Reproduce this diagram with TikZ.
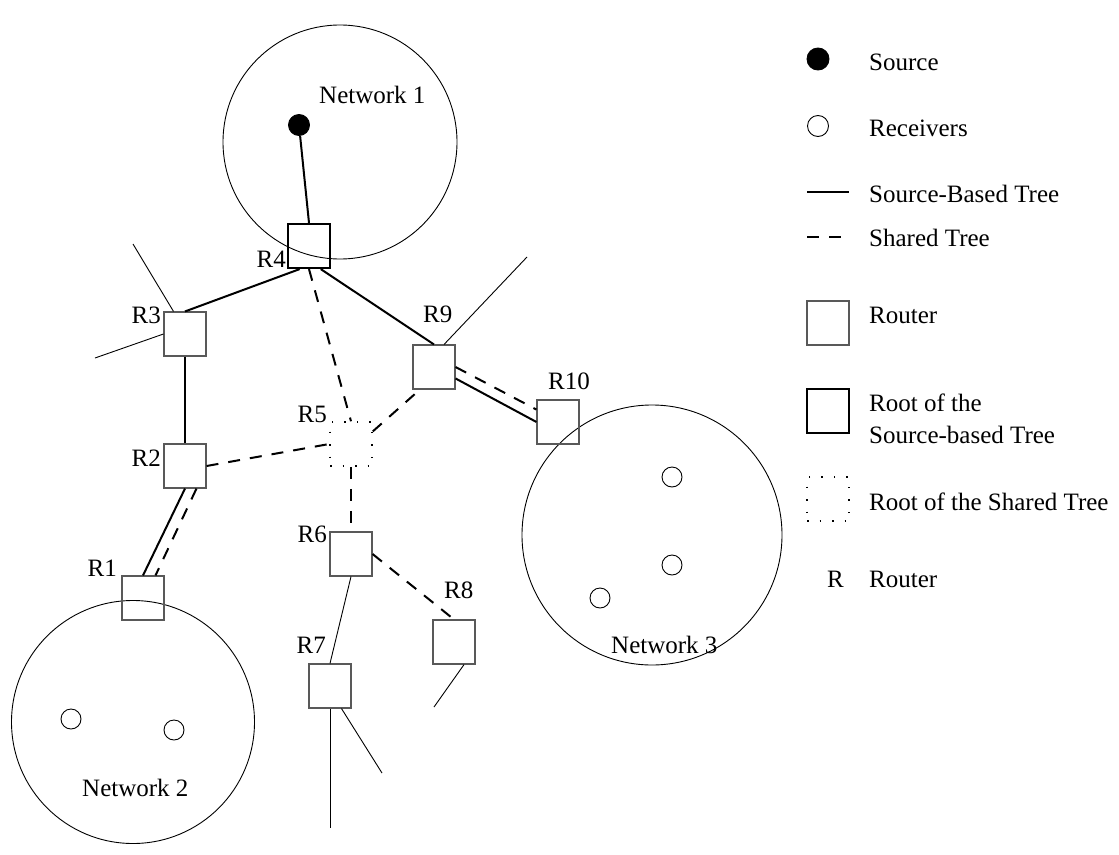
\documentclass[tikz,border=0pt]{standalone}
\usepackage{fontspec}
\setmainfont{Liberation Serif}
\usepackage{tikz}
\colorlet{boxGray}{black!65}

\begin{document}
\begin{tikzpicture}[x=1pt,y=-1pt]
    \tikzstyle{every node}=[font=\fontsize{25}{30}\selectfont]
    \tikzstyle{router}=[draw=boxGray, line width=1.1pt, rectangle, minimum width=42pt,
      minimum height=44pt, inner sep=0pt]
    \tikzstyle{srcroot}=[router, draw=black, line width=2.2pt]
    \tikzstyle{sharedroot}=[router, draw=black, line width=1.5pt, dash pattern=on 1.5pt off 11pt]
    \tikzstyle{host}=[draw, circle, line width=0.9pt, minimum size=20pt, inner sep=0pt]
    \tikzstyle{net}=[draw, circle, line width=0.9pt, inner sep=0pt]
    \tikzstyle{srctree}=[line width=2pt]
    \tikzstyle{sharedtree}=[line width=2pt, dash pattern=on 12pt off 10pt]
    \tikzstyle{stub}=[line width=0.9pt]
    \tikzstyle{lbl}=[inner sep=0pt]

    \useasboundingbox (0,0) rectangle (1119,854);

    % networks
    \node[net, minimum size=234pt] (net1) at (340,142) {};
    \node[net, minimum size=243pt] (net2) at (133,722) {};
    \node[net, minimum size=260pt] (net3) at (652,535) {};
    \node[lbl, anchor=base west] (net1l) at (319,103) {Network 1};
    \node[lbl, anchor=base west] (net2l) at (82,796) {Network 2};
    \node[lbl, anchor=base west] (net3l) at (611,653) {Network 3};

    % source and receivers
    \node[host, fill=black, minimum size=21pt] (src) at (299,125) {};
    \node[host] (rx1) at (71,719) {};
    \node[host] (rx2) at (174,730) {};
    \node[host] (rx3) at (672,477) {};
    \node[host] (rx4) at (672,565) {};
    \node[host] (rx5) at (600,598) {};

    % routers
    \node[router] (r1) at (143,598) {};
    \node[router] (r2) at (185,466) {};
    \node[router] (r3) at (185,334) {};
    \node[srcroot] (r4) at (309,246) {};
    \node[sharedroot] (r5) at (351,444) {};
    \node[router] (r6) at (351,554) {};
    \node[router] (r7) at (330,686) {};
    \node[router] (r8) at (454,642) {};
    \node[router] (r9) at (434,367) {};
    \node[router] (r10) at (558,422) {};

    \node[lbl, anchor=base east] (r1l) at (117,576) {R1};
    \node[lbl, anchor=base east] (r2l) at (161,466) {R2};
    \node[lbl, anchor=base east] (r3l) at (161,323) {R3};
    \node[lbl, anchor=base east] (r4l) at (286,267) {R4};
    \node[lbl, anchor=base east] (r5l) at (327,422) {R5};
    \node[lbl, anchor=base east] (r6l) at (327,542) {R6};
    \node[lbl, anchor=base east] (r7l) at (326,653) {R7};
    \node[lbl, anchor=base west] (r8l) at (444,598) {R8};
    \node[lbl, anchor=base west] (r9l) at (423,322) {R9};
    \node[lbl, anchor=base west] (r10l) at (548,389) {R10};

    % source-based tree
    \draw[srctree] (src) -- (r4.north);
    \draw[srctree] (r4.248) -- (r3.north);
    \draw[srctree] (r4.297) -- (r9.north);
    \draw[srctree] (r3.south) -- (r2.north);
    \draw[srctree] (r2.south) -- (r1.north);
    \draw[srctree] (r9.-28) -- (r10.west);

    % shared tree
    \draw[sharedtree] (r4.south) -- (r5.north);
    \draw[sharedtree] (r2.east) -- (r5.west);
    \draw[sharedtree] (r5.30) -- (r9.238);
    \draw[sharedtree] (r5.south) -- (r6.north);
    \draw[sharedtree] (r6.east) -- (r8.north);
    \draw[sharedtree] (r2.297) -- (r1.61);
    \draw[sharedtree] (r9.east) -- (r10.150);

    % other links
    \coordinate (s3a) at (133,244);
    \coordinate (s3b) at (95,358);
    \coordinate (s9) at (527,257);
    \coordinate (s8) at (434,707);
    \coordinate (s7a) at (330,828);
    \coordinate (s7b) at (382,773);
    \draw[stub] (r3.117) -- (s3a);
    \draw[stub] (r3.west) -- (s3b);
    \draw[stub] (r9.66) -- (s9);
    \draw[stub] (r6.south) -- (r7.north);
    \draw[stub] (r8.294) -- (s8);
    \draw[stub] (r7.south) -- (s7a);
    \draw[stub] (r7.297) -- (s7b);

    % legend
    \node[host, fill=black, minimum size=22pt] (kSrc) at (818,59) {};
    \node[host, minimum size=21pt] (kRx) at (818,126) {};
    \coordinate (kSolidA) at (807,192);
    \coordinate (kSolidB) at (849,192);
    \coordinate (kDashA) at (807,237);
    \coordinate (kDashB) at (849,237);
    \draw[srctree] (kSolidA) -- (kSolidB);
    \draw[sharedtree] (kDashA) -- (kDashB);
    \node[router] (kRouter) at (828,323) {};
    \node[srcroot] (kSrcRoot) at (828,411) {};
    \node[sharedroot] (kSharedRoot) at (828,499) {};
    \node[lbl, anchor=base east] (kR) at (844,587) {R};

    \node[lbl, anchor=base west] (kSrcl) at (869,70) {Source};
    \node[lbl, anchor=base west] (kRxl) at (869,136) {Receivers};
    \node[lbl, anchor=base west] (kSolidl) at (869,202) {Source-Based Tree};
    \node[lbl, anchor=base west] (kDashl) at (869,246) {Shared Tree};
    \node[lbl, anchor=base west] (kRouterl) at (869,323) {Router};
    \node[lbl, anchor=base west] (kSrcRootl) at (869,411) {Root of the};
    \node[lbl, anchor=base west] (kSrcRootm) at (869,443) {Source-based Tree};
    \node[lbl, anchor=base west] (kSharedRootl) at (869,510) {Root of the Shared Tree};
    \node[lbl, anchor=base west] (kRl) at (869,587) {Router};
\end{tikzpicture}
\end{document}
